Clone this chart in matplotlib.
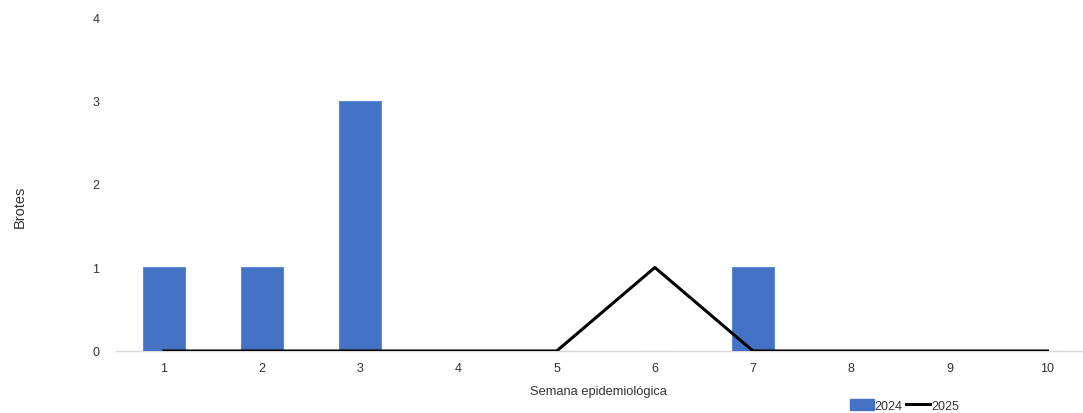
import matplotlib
matplotlib.use("Agg")
import matplotlib.pyplot as plt
from matplotlib.patches import Patch
from matplotlib.lines import Line2D

plt.rcParams['font.family'] = ['Liberation Sans', 'DejaVu Sans']

weeks = [1, 2, 3, 4, 5, 6, 7, 8, 9, 10]
brotes_2024 = [1, 1, 3, 0, 0, 0, 1, 0, 0, 0]
brotes_2025 = [0, 0, 0, 0, 0, 1, 0, 0, 0, 0]
y_ticks = [0, 1, 2, 3, 4]

text_color = "#333333"
bar_color = "#4472C4"

fig = plt.figure(figsize=(10.83, 4.14), dpi=100)
ax = fig.add_axes([0.107, 0.1498, 0.892, 0.8067])

ax.bar(weeks, brotes_2024, width=0.43, color=bar_color,
       edgecolor="#5b8bd6", linewidth=0.8, zorder=2)
ax.plot(weeks, brotes_2025, color="black", linewidth=2.2, zorder=3)

ax.set_xlim(0.51, 10.35)
ax.set_ylim(0, 4)
ax.set_xticks(weeks)
ax.set_yticks(y_ticks)
ax.tick_params(axis="both", length=0, labelsize=9, colors=text_color)
ax.tick_params(axis="y", pad=12)
ax.tick_params(axis="x", pad=8)

for side in ("top", "right", "left"):
    ax.spines[side].set_visible(False)
ax.spines["bottom"].set_color("#d9d9d9")
ax.spines["bottom"].set_linewidth(1.0)
ax.spines["bottom"].set_zorder(1)

ax.set_xlabel("Semana epidemiológica", fontsize=9.3, color=text_color, labelpad=8)
fig.text(0.0185, 0.5, "Brotes", rotation=90, ha="center", va="center",
         fontsize=10.5, color=text_color)

handles = [Patch(facecolor=bar_color, edgecolor=bar_color),
           Line2D([0], [0], color="black", linewidth=2.2)]
fig.legend(handles, ["2024", "2025"], loc="center", bbox_to_anchor=(0.835, 0.018),
           ncol=2, frameon=False, fontsize=9.0, handlelength=1.9, handleheight=0.9,
           handletextpad=0.1, columnspacing=0.25, labelcolor=text_color)

fig.savefig("out.png", dpi=100)
